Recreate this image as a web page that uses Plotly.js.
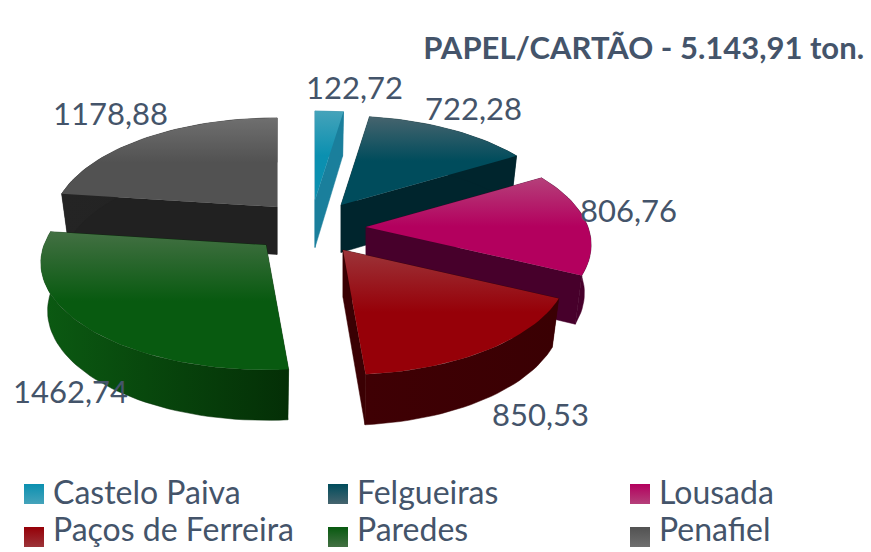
<!DOCTYPE html>
<html>
<head>
<meta charset="utf-8">
<script src="https://cdn.plot.ly/plotly-3.0.1.min.js"></script>
<style>html,body{margin:0;padding:0;background:#fff}#chart{width:871px;height:552px}</style>
</head>
<body>
<div id="chart"></div>
<script>
// Data
const categories = ["Castelo Paiva", "Felgueiras", "Lousada", "Paços de Ferreira", "Paredes", "Penafiel"];
const values = [122.72, 722.28, 806.76, 850.53, 1462.74, 1178.88];
const chartTitle = "PAPEL/CARTÃO - 5.143,91 ton.";

// Styles
const topLight = ["#45a3ba", "#46646e", "#b5407a", "#9c3439", "#437043", "#6f6f6f"];
const topSolid = ["#0b90b0", "#004c5c", "#b3005e", "#960008", "#085a10", "#525252"];
const wallDark = ["#1a7f9c", "#00252d", "#47002b", "#3a0003", "#042f06", "#212121"];
const wallSoft = ["#1a7f9c", "#00252d", "#47002b", "#3f0004", "#0b5a12", "#242424"];
const textColor = "#44546a";
const fontFamily = "Lato, 'Open Sans', sans-serif";

// Layout of the exploded, tilted pie (pixel-like axis units)
const apexX = [315, 341, 366, 343, 266, 277];
const apexY = [200, 205, 227, 250, 245, 207];
const radiusX = 222, radiusY = 104, persp = 0.167;
const labelX = [354, 473, 628, 540, 70, 110];
const labelY = [87, 108, 210, 414, 391, 113];
const legendX = [34, 338, 640];
const legendY = [494, 537];
const legendTextY = [496, 533];
const legendTextDx = 19;

const total = values.reduce((a, b) => a + b, 0);
const drawOrder = [1, 2, 0, 5, 3, 4];

function rim(i, deg) {
  const t = deg * Math.PI / 180, X = Math.sin(t), Y = -Math.cos(t), d = 1 - persp * Y;
  return [apexX[i] + radiusX * X / d, apexY[i] + radiusY * Y / d, Y];
}
function drop(i, p) {
  const depth = 47.5 + 3 * p[2];
  return [apexX[i] + (p[0] - apexX[i]) * 0.97, p[1] + depth];
}
function poly(pts, name, fill, extra) {
  return Object.assign({
    type: "scatter", mode: "lines", name: name, showlegend: false, hoverinfo: "skip",
    x: pts.map(p => p[0]), y: pts.map(p => p[1]),
    fill: "toself", fillcolor: fill, line: {width: 0.5, color: fill}
  }, extra || {});
}

const starts = [];
let acc = 0;
values.forEach(v => { starts.push(acc); acc += v / total * 360; });

const traces = [];
drawOrder.forEach(i => {
  const a0 = starts[i], a1 = a0 + values[i] / total * 360;
  const arc = [];
  const n = Math.max(4, Math.ceil((a1 - a0) / 2));
  for (let k = 0; k <= n; k++) arc.push(rim(i, a0 + (a1 - a0) * k / n));
  const apex = [apexX[i], apexY[i], 0];
  const apexLow = drop(i, apex);
  // radial walls
  traces.push(poly([apex, arc[0], drop(i, arc[0]), apexLow, apex], categories[i] + " parede", wallDark[i]));
  traces.push(poly([apex, arc[n], drop(i, arc[n]), apexLow, apex], categories[i] + " parede", wallDark[i]));
  // outer wall
  const wall = arc.concat(arc.slice().reverse().map(p => drop(i, p)));
  const xs = wall.map(p => p[0]);
  traces.push(poly(wall, categories[i] + " lateral", wallDark[i], {
    fillgradient: {type: "horizontal", start: Math.min(...xs), stop: Math.max(...xs),
      colorscale: [[0, wallSoft[i]], [1, wallDark[i]]]}
  }));
  // top surface
  const top = [apex].concat(arc, [apex]);
  const ys = top.map(p => p[1]);
  traces.push(poly(top, categories[i], topSolid[i], {
    hoverinfo: "text", text: categories[i] + ": " + values[i].toFixed(2).replace(".", ","),
    line: {width: 0},
    fillgradient: {type: "vertical", start: Math.min(...ys), stop: Math.max(...ys),
      colorscale: [[0, topLight[i]], [0.5, topSolid[i]], [1, topSolid[i]]]}
  }));
});

// Legend entries
categories.forEach((c, i) => {
  const col = i % 3, row = Math.floor(i / 3);
  traces.push({
    type: "scatter", mode: "markers", name: c, showlegend: false, hoverinfo: "skip",
    x: [legendX[col]], y: [legendY[row]], cliponaxis: false,
    marker: {symbol: "square", size: 20, color: topSolid[i], line: {width: 0},
      gradient: {type: "vertical", color: topLight[i]}}
  });
  traces.push({
    type: "scatter", mode: "text", name: c, showlegend: false, hoverinfo: "skip",
    x: [legendX[col] + legendTextDx], y: [legendTextY[row]],
    text: [c], textposition: "middle right", cliponaxis: false,
    textfont: {family: fontFamily, size: 32, color: textColor}
  });
});

const annotations = values.map((v, i) => ({
  xref: "x", yref: "y", x: labelX[i], y: labelY[i], showarrow: false,
  text: v.toFixed(2).replace(".", ","),
  font: {family: fontFamily, size: 31, color: textColor},
  xanchor: "center", yanchor: "middle"
}));

const layout = {
  width: 871, height: 552,
  margin: {l: 0, r: 0, t: 0, b: 0},
  paper_bgcolor: "#fff", plot_bgcolor: "#fff",
  showlegend: false,
  title: {text: "<b>" + chartTitle + "</b>", x: 864 / 871, xanchor: "right", xref: "paper",
    y: 1 - 48 / 552, yanchor: "middle", yref: "container",
    font: {family: fontFamily, size: 31, color: textColor}},
  xaxis: {range: [0, 871], visible: false, fixedrange: true},
  yaxis: {range: [552, 0], visible: false, fixedrange: true},
  annotations: annotations
};
Plotly.newPlot("chart", traces, layout, {displayModeBar: false});
</script>
</body>
</html>
